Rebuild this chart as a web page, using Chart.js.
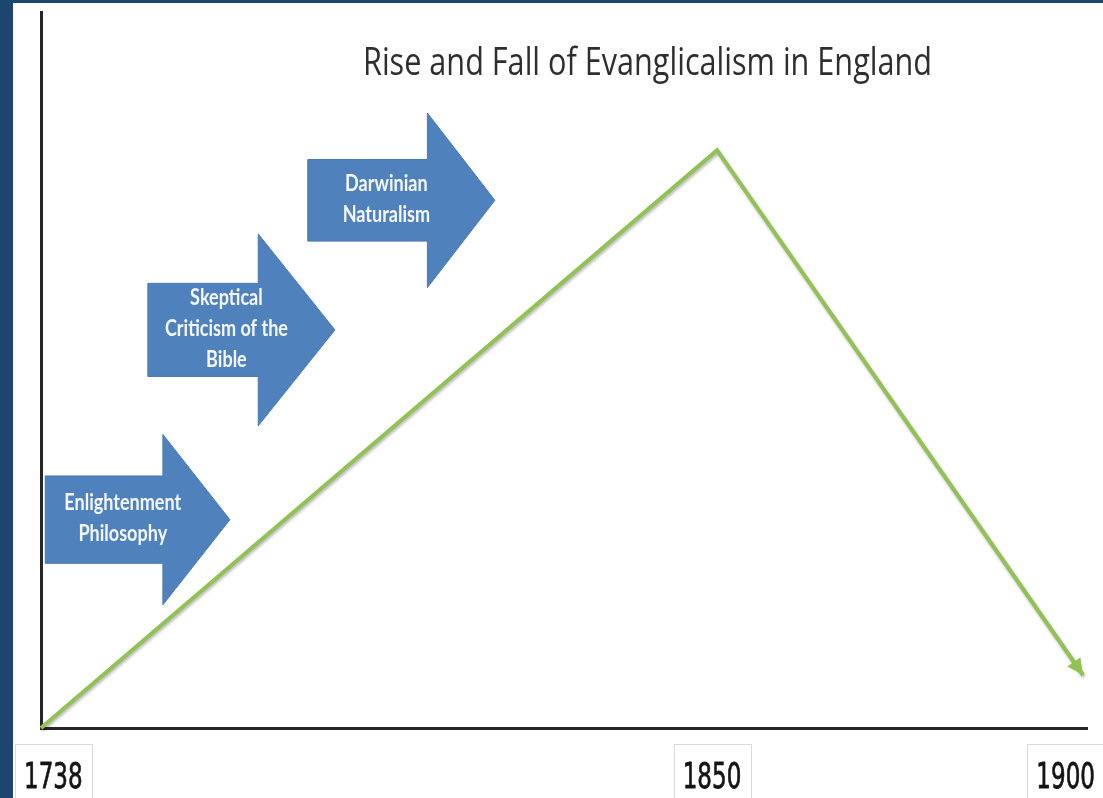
<!DOCTYPE html>
<html><head><meta charset="utf-8">
<script src="https://cdn.jsdelivr.net/npm/chart.js@4.4.1/dist/chart.umd.min.js"></script>
<style>
html,body{margin:0;padding:0;background:#1c4670;width:1103px;height:798px;overflow:hidden}
#wrap{position:absolute;left:13px;top:3px;width:1090px;height:795px;background:#fff}
canvas{display:block}
</style></head><body>
<div id="wrap"><canvas id="c" width="1090" height="795"></canvas></div>
<script>
// ---- data ----
const years = [1738, 1850, 1900];
const evangelicalism = [0, 80.7, 7.4];
const tickYears = [1738, 1850, 1900];
const tickLabels = ['1738', '1850', '1900'];
const chartTitle = 'Rise and Fall of Evanglicalism in England';
const influenceLabels = [['Enlightenment', 'Philosophy'], ['Skeptical', 'Criticism of the', 'Bible'], ['Darwinian', 'Naturalism']];
const influenceFrom = [1738.7, 1755.7, 1782.2];
const influenceTo = [1769.3, 1786.7, 1813.2];
const influenceLevel = [29.1, 55.6, 73.7];

// ---- layout / style ----
const xStops = [[1738, 0], [1850, 0.6463], [1900, 0.9962]]; // schematic (non-linear) time axis
const arrowStyle = [
  {headAt: 0.637, body: 6.1, head: 11.9},
  {headAt: 0.59, body: 6.5, head: 13.4},
  {headAt: 0.639, body: 5.7, head: 12.2}
];

class PiecewiseScale extends Chart.LinearScale {
  static id = 'piecewise';
  _dec(v) {
    const s = xStops; let i = 0;
    while (i < s.length - 2 && v > s[i + 1][0]) i++;
    const [v0, f0] = s[i], [v1, f1] = s[i + 1];
    return f0 + (v - v0) * (f1 - f0) / (v1 - v0);
  }
  getPixelForValue(v) { return this.getPixelForDecimal(this._dec(v)); }
  getValueForPixel(p) {
    const d = this.getDecimalForPixel(p); const s = xStops; let i = 0;
    while (i < s.length - 2 && d > s[i + 1][1]) i++;
    const [v0, f0] = s[i], [v1, f1] = s[i + 1];
    return v0 + (d - f0) * (v1 - v0) / (f1 - f0);
  }
}
Chart.register(PiecewiseScale);

function txt(ctx, s, x, y, font, sx, color, stroke) {
  ctx.save(); ctx.font = font; ctx.fillStyle = color; ctx.textAlign = 'center'; ctx.textBaseline = 'alphabetic';
  ctx.translate(x, y); ctx.scale(sx, 1); ctx.fillText(s, 0, 0);
  if (stroke) { ctx.strokeStyle = color; ctx.lineWidth = stroke; ctx.lineJoin = 'round'; ctx.strokeText(s, 0, 0); }
  ctx.restore();
}

const decor = {
  id: 'decor',
  beforeDatasetsDraw(chart) {
    const ctx = chart.ctx, xs = chart.scales.x, ys = chart.scales.y;
    influenceLabels.forEach((lines, i) => {
      const st = arrowStyle[i];
      const x0 = xs.getPixelForValue(influenceFrom[i]);
      const x2 = xs.getPixelForValue(influenceTo[i]);
      const x1 = x0 + (x2 - x0) * st.headAt;
      const yc = ys.getPixelForValue(influenceLevel[i]);
      const bt = ys.getPixelForValue(influenceLevel[i] + st.body), bb = ys.getPixelForValue(influenceLevel[i] - st.body);
      const ht = ys.getPixelForValue(influenceLevel[i] + st.head), hb = ys.getPixelForValue(influenceLevel[i] - st.head);
      ctx.save();
      ctx.beginPath();
      ctx.moveTo(x0, bt); ctx.lineTo(x1, bt); ctx.lineTo(x1, ht); ctx.lineTo(x2, yc);
      ctx.lineTo(x1, hb); ctx.lineTo(x1, bb); ctx.lineTo(x0, bb); ctx.closePath();
      ctx.fillStyle = '#4f81bd'; ctx.fill();
      ctx.strokeStyle = '#4a7ab4'; ctx.lineWidth = 1; ctx.stroke();
      ctx.restore();
      const tx = x0 + (x2 - x0) * 0.42;
      const lh = 31;
      const top = yc - 2 - lh * (lines.length - 1) / 2;
      lines.forEach((l, k) => txt(ctx, l, tx, top + k * lh + 8, 'bold 22px Lato', 0.82, '#f4f7fb'));
    });
  },
  beforeDatasetDraw(chart) {
    const ctx = chart.ctx; ctx.save();
    ctx.shadowColor = 'rgba(0,0,0,0.28)'; ctx.shadowBlur = 3; ctx.shadowOffsetX = 1; ctx.shadowOffsetY = 2;
  },
  afterDatasetDraw(chart, args) {
    const ctx = chart.ctx; ctx.restore();
    const pts = args.meta.data; const a = pts[pts.length - 2], b = pts[pts.length - 1];
    const ang = Math.atan2(b.y - a.y, b.x - a.x);
    const L = 16, W = 8;
    ctx.save(); ctx.translate(b.x, b.y); ctx.rotate(ang);
    ctx.beginPath(); ctx.moveTo(0, 0); ctx.lineTo(-L, -W); ctx.lineTo(-L, W); ctx.closePath();
    ctx.fillStyle = '#92c156'; ctx.fill(); ctx.restore();
  },
  afterDraw(chart) {
    const ctx = chart.ctx, xs = chart.scales.x;
    // title
    ctx.save(); ctx.font = '38px "Open Sans"';
    const tw = ctx.measureText(chartTitle).width; ctx.restore();
    txt(ctx, chartTitle, 634.5, 72, '38px "Open Sans"', 569 / tw, '#2e2e2e');
    // year labels in boxes
    const font = '36px "DejaVu Sans"', sx = 0.64;
    tickYears.forEach((yr, i) => {
      ctx.save(); ctx.font = font; const w = ctx.measureText(tickLabels[i]).width * sx; ctx.restore();
      const bw = w + 18;
      let cx = xs.getPixelForValue(yr);
      cx = Math.max(2 + bw / 2, Math.min(chart.width + 1 - bw / 2, cx - 5));
      ctx.save(); ctx.fillStyle = '#fff'; ctx.strokeStyle = '#dadada'; ctx.lineWidth = 1;
      ctx.fillRect(cx - bw / 2, 741, bw, 60);
      ctx.strokeRect(Math.round(cx - bw / 2) + 0.5, 741.5, Math.round(bw), 60);
      ctx.restore();
      txt(ctx, tickLabels[i], cx, 785, font, sx, '#141414', 0.8);
    });
  }
};

new Chart(document.getElementById('c'), {
  type: 'line',
  data: {
    datasets: [{
      data: years.map((y, i) => ({x: y, y: evangelicalism[i]})),
      borderColor: '#92c156', borderWidth: 4, pointRadius: 0, tension: 0, fill: false, clip: false
    }]
  },
  options: {
    responsive: false, animation: false,
    layout: {padding: {left: 28, top: 9, right: 16, bottom: 70}},
    plugins: {legend: {display: false}, tooltip: {enabled: false}, title: {display: false}},
    scales: {
      x: {type: 'piecewise', min: 1738, max: 1900.5, grid: {display: false, drawTicks: false}, ticks: {display: false},
          border: {display: true, color: '#262626', width: 3}},
      y: {type: 'linear', min: 0, max: 100, grid: {display: false, drawTicks: false}, ticks: {display: false},
          border: {display: true, color: '#262626', width: 3}}
    }
  },
  plugins: [decor]
});
</script>
</body></html>
